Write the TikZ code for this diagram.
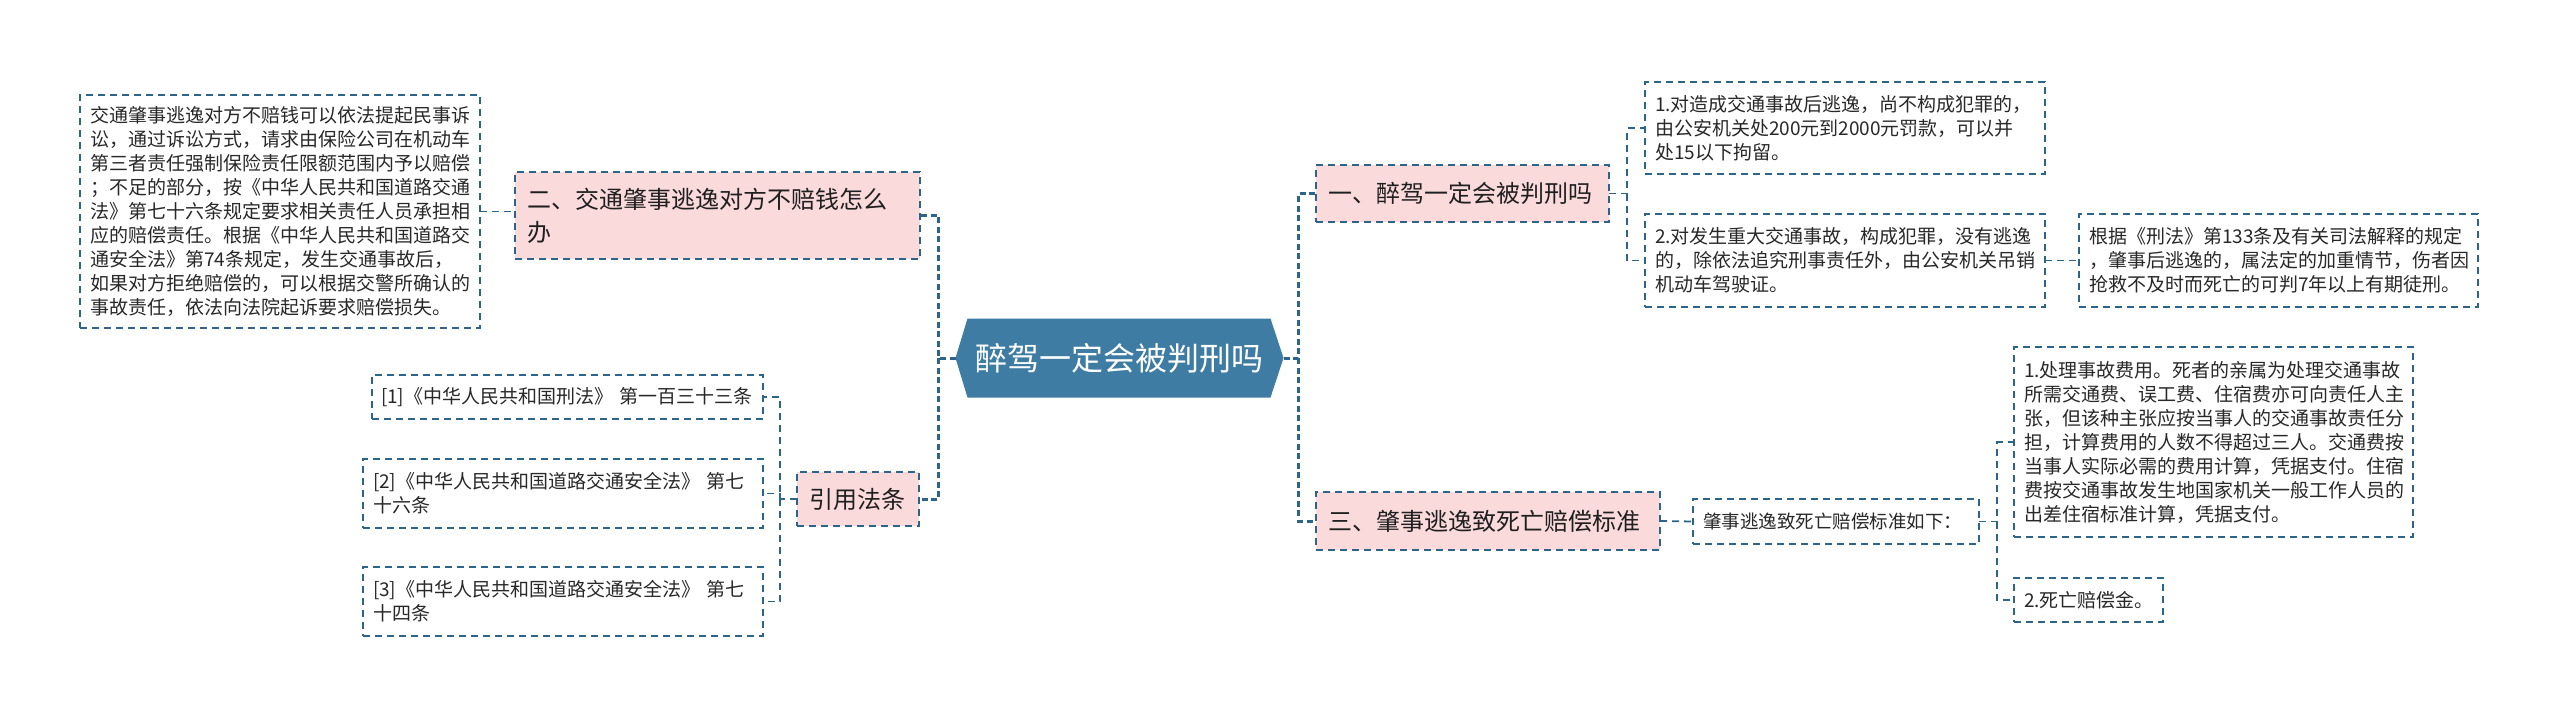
\documentclass[tikz,border=0pt]{standalone}
\usepackage{fontspec}
\setmainfont{Noto Sans CJK SC}
\usetikzlibrary{backgrounds}
\definecolor{lnc}{RGB}{45,100,138}
\definecolor{hexc}{RGB}{62,124,163}
\definecolor{pinkc}{RGB}{250,218,218}
\definecolor{txtc}{RGB}{40,40,40}
\begin{document}
\begin{tikzpicture}[x=1pt,y=-1pt,
 box/.style={draw=lnc, line width=1.6pt, dash pattern=on 7pt off 5pt, inner xsep=10pt, inner ysep=0pt, outer sep=0pt, anchor=north west, align=left, text=txtc, font=\fontsize{19}{24}\selectfont},
 pinkbox/.style={box, fill=pinkc, text=black!88, font=\fontsize{24}{33}\selectfont, inner xsep=12pt},
 conn/.style={draw=lnc, line width=1.8pt, dash pattern=on 7pt off 5pt},
 trunk/.style={draw=lnc, line width=3pt, dash pattern=on 6pt off 3.5pt},
]
\useasboundingbox (0,0) rectangle (2560,718);
% center
\node[font=\fontsize{32}{38}\selectfont, text=white, minimum width=303pt, minimum height=79pt, inner sep=0pt, outer sep=0pt] (c) at (1119,358) {醉驾一定会被判刑吗};
\coordinate (cW) at ([xshift=-12pt]c.west);
\coordinate (cE) at ([xshift=13pt]c.east);
% left side
\node[box, text width=380pt, minimum height=233pt] (L1) at (80,95) {交通肇事逃逸对方不赔钱可以依法提起民事诉\\讼，通过诉讼方式，请求由保险公司在机动车\\第三者责任强制保险责任限额范围内予以赔偿\\；不足的部分，按《中华人民共和国道路交通\\法》第七十六条规定要求相关责任人员承担相\\应的赔偿责任。根据《中华人民共和国道路交\\通安全法》第74条规定，发生交通事故后，\\如果对方拒绝赔偿的，可以根据交警所确认的\\事故责任，依法向法院起诉要求赔偿损失。};
\node[pinkbox, text width=381pt, minimum height=87pt] (B2) at (515,172) {二、交通肇事逃逸对方不赔钱怎么\\办};
\node[pinkbox, text width=98pt, minimum height=54pt] (Cite) at (797,472) {引用法条};
\node[box, inner xsep=9pt, text width=373pt, minimum height=44pt] (R1) at (372,375) {[1]《中华人民共和国刑法》 第一百三十三条};
\node[box, text width=380pt, minimum height=69pt] (R2) at (363,459) {[2]《中华人民共和国道路交通安全法》 第七\\十六条};
\node[box, text width=380pt, minimum height=69pt] (R3) at (363,567) {[3]《中华人民共和国道路交通安全法》 第七\\十四条};
% right side
\node[pinkbox, text width=269pt, minimum height=57pt] (B1) at (1316,165) {一、醉驾一定会被判刑吗};
\node[pinkbox, text width=320pt, minimum height=58pt] (B3) at (1316,492) {三、肇事逃逸致死亡赔偿标准};
\node[box, font=\fontsize{18.5}{23}\selectfont, text width=266pt, minimum height=45pt] (S1) at (1693,499) {肇事逃逸致死亡赔偿标准如下：};
\node[box, text width=380pt, minimum height=92pt] (A1) at (1645,82) {1.对造成交通事故后逃逸，尚不构成犯罪的，\\由公安机关处200元到2000元罚款，可以并\\处15以下拘留。};
\node[box, text width=380pt, minimum height=93pt] (A2) at (1645,214) {2.对发生重大交通事故，构成犯罪，没有逃逸\\的，除依法追究刑事责任外，由公安机关吊销\\机动车驾驶证。};
\node[box, text width=379pt, minimum height=93pt] (A3) at (2079,214) {根据《刑法》第133条及有关司法解释的规定\\，肇事后逃逸的，属法定的加重情节，伤者因\\抢救不及时而死亡的可判7年以上有期徒刑。};
\node[box, text width=379pt, minimum height=190pt] (D1) at (2014,347) {1.处理事故费用。死者的亲属为处理交通事故\\所需交通费、误工费、住宿费亦可向责任人主\\张，但该种主张应按当事人的交通事故责任分\\担，计算费用的人数不得超过三人。交通费按\\当事人实际必需的费用计算，凭据支付。住宿\\费按交通事故发生地国家机关一般工作人员的\\出差住宿标准计算，凭据支付。};
\node[box, text width=129pt, minimum height=44pt] (D2) at (2014,578) {2.死亡赔偿金。};
% connectors
\draw[trunk] (cW) -- ++(-17,0) coordinate (jL) |- (B2.east);
\draw[trunk] (jL) |- (Cite.east);
\draw[conn] (L1.east) -- (L1.east -| B2.west);
\draw[conn] (Cite.west) -- ++(-17,0) coordinate (jC) |- (R1.east);
\draw[conn] (jC) |- (R2.east);
\draw[conn] (jC) |- (R3.east);
\draw[trunk] (cE) -- ++(15,0) coordinate (jR) |- (B1.west);
\draw[trunk] (jR) |- (B3.west);
\draw[conn] (B1.east) -- ++(18,0) coordinate (jB) |- (A1.west);
\draw[conn] (jB) |- (A2.west);
\draw[conn] (A2.east) -- (A3.west);
\draw[conn] (B3.east) -- (S1.west);
\draw[conn] (S1.east) -- ++(18,0) coordinate (jS) |- (D1.west);
\draw[conn] (jS) |- (D2.west);
\begin{scope}[on background layer]
\fill[white] (0,0) rectangle (2560,718);
\fill[hexc] (c.north west) -- (c.north east) -- (cE) -- (c.south east) -- (c.south west) -- (cW) -- cycle;
\end{scope}
\end{tikzpicture}
\end{document}
